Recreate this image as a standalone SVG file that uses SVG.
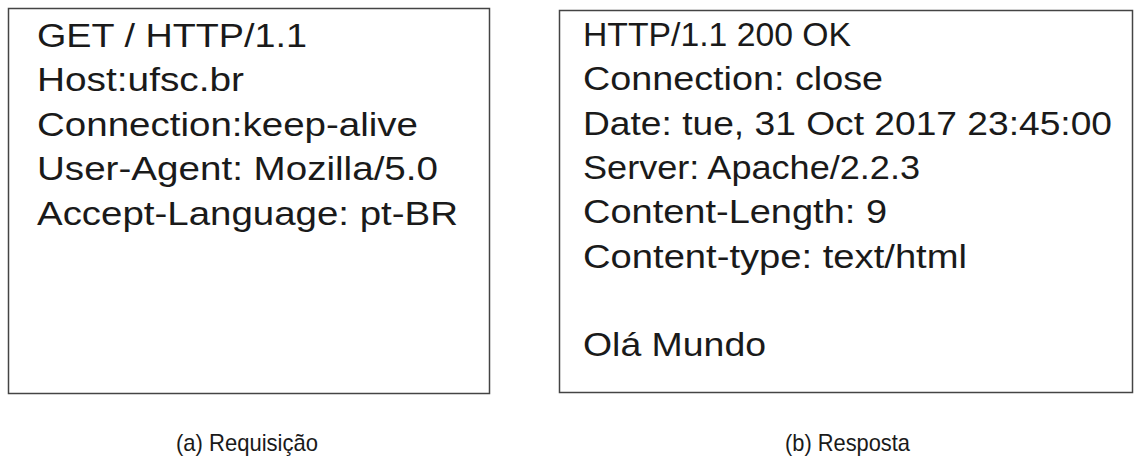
<svg xmlns="http://www.w3.org/2000/svg" width="1141" height="463" viewBox="0 0 1141 463">
<style>
.box{fill:#fff;stroke:#444;stroke-width:1.5}
.t{font-family:"Liberation Sans",Arial,sans-serif;font-size:34px;fill:#1a1a1a}
.cap{font-family:"Liberation Sans",Arial,sans-serif;font-size:24px;fill:#1a1a1a;text-anchor:middle}
</style>
<rect width="1141" height="463" fill="#fff"/>
<g id="request">
<rect class="box" x="8.5" y="8.5" width="481" height="385"/>
<text class="t" x="37" y="46.5" textLength="270" lengthAdjust="spacingAndGlyphs">GET / HTTP/1.1</text>
<text class="t" x="37" y="91" textLength="207" lengthAdjust="spacingAndGlyphs">Host:ufsc.br</text>
<text class="t" x="37" y="135.5" textLength="381" lengthAdjust="spacingAndGlyphs">Connection:keep-alive</text>
<text class="t" x="37" y="180" textLength="401" lengthAdjust="spacingAndGlyphs">User-Agent: Mozilla/5.0</text>
<text class="t" x="37" y="224.5" textLength="421" lengthAdjust="spacingAndGlyphs">Accept-Language: pt-BR</text>
</g>
<g id="response">
<rect class="box" x="559.5" y="10.5" width="573" height="382"/>
<text class="t" x="583" y="46" textLength="268" lengthAdjust="spacingAndGlyphs">HTTP/1.1 200 OK</text>
<text class="t" x="583" y="90.3" textLength="300" lengthAdjust="spacingAndGlyphs">Connection: close</text>
<text class="t" x="583" y="134.6" textLength="529" lengthAdjust="spacingAndGlyphs">Date: tue, 31 Oct 2017 23:45:00</text>
<text class="t" x="583" y="179" textLength="337" lengthAdjust="spacingAndGlyphs">Server: Apache/2.2.3</text>
<text class="t" x="583" y="223.3" textLength="304" lengthAdjust="spacingAndGlyphs">Content-Length: 9</text>
<text class="t" x="583" y="267.6" textLength="384" lengthAdjust="spacingAndGlyphs">Content-type: text/html</text>
<text class="t" x="583" y="356" textLength="183" lengthAdjust="spacingAndGlyphs">Olá Mundo</text>
</g>
<g id="captions">
<text class="cap" x="247" y="450.5" textLength="142" lengthAdjust="spacingAndGlyphs">(a) Requisição</text>
<text class="cap" x="847.5" y="450.5" textLength="125" lengthAdjust="spacingAndGlyphs">(b) Resposta</text>
</g>
<g id="connectors"></g>
</svg>
